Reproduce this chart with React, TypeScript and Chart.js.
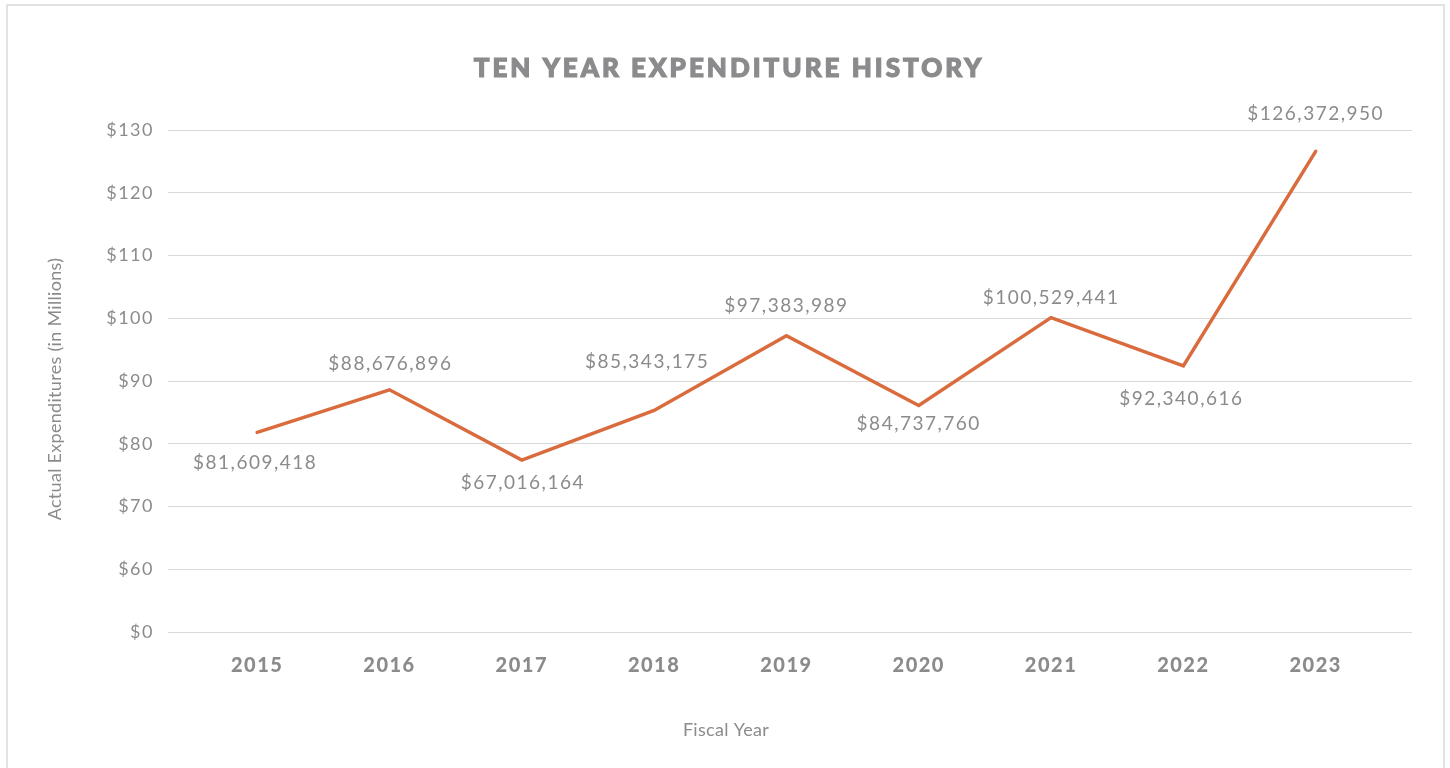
import React, { useEffect, useRef } from 'react';
import { Chart, registerables } from 'chart.js';

Chart.register(...registerables);

const chartTitle = 'TEN YEAR EXPENDITURE HISTORY';
const xAxisTitle = 'Fiscal Year';
const yAxisTitle = 'Actual Expenditures (in Millions)';

const years = ['2015', '2016', '2017', '2018', '2019', '2020', '2021', '2022', '2023'];
// plotted positions (millions) as drawn in the reference
const plotValues = [81.8, 88.6, 77.4, 85.3, 97.2, 86.1, 100.1, 92.4, 126.6];
// label text shown next to each point
const valueLabels = [
  '$81,609,418',
  '$88,676,896',
  '$67,016,164',
  '$85,343,175',
  '$97,383,989',
  '$84,737,760',
  '$100,529,441',
  '$92,340,616',
  '$126,372,950',
];
const yTickValues = [50, 60, 70, 80, 90, 100, 110, 120, 130];
const yTickLabels = ['$0', '$60', '$70', '$80', '$90', '$100', '$110', '$120', '$130'];

// label offsets relative to the point (style only)
const labelOffsets: [number, number][] = [
  [-2, 30], [1, -26], [1, 23], [-7, -49], [0, -30], [0, 18], [0, -20], [-2, 33], [0, -37],
];

const GRAY = '#8B8B8E';
const LINE = '#D96B3D';
const FONT = 'Lato, "Open Sans", sans-serif';

export default function App() {
  const ref = useRef<HTMLCanvasElement | null>(null);

  useEffect(() => {
    document.body.style.margin = '0';
    const canvas = ref.current;
    if (!canvas) return;

    const decor = {
      id: 'decor',
      beforeDraw(chart: any) {
        const ctx = chart.ctx as CanvasRenderingContext2D;
        ctx.save();
        ctx.fillStyle = '#ffffff';
        ctx.fillRect(0, 0, chart.width, chart.height);
        ctx.strokeStyle = '#D9D9D9';
        ctx.lineWidth = 1.5;
        ctx.strokeRect(7, 5, 1437, 800);
        ctx.restore();
        (ctx as any).letterSpacing = '1.5px';
      },
      afterDraw(chart: any) {
        const ctx = chart.ctx as CanvasRenderingContext2D;
        ctx.save();
        ctx.fillStyle = GRAY;
        ctx.strokeStyle = GRAY;
        ctx.textAlign = 'center';
        ctx.textBaseline = 'middle';
        // title
        (ctx as any).letterSpacing = '3px';
        ctx.font = `900 26px ${FONT}`;
        ctx.lineWidth = 1.2;
        ctx.fillText(chartTitle, 729, 69);
        ctx.strokeText(chartTitle, 729, 69);
        // axis titles
        (ctx as any).letterSpacing = '0.3px';
        ctx.font = `18px ${FONT}`;
        ctx.fillText(xAxisTitle, 726, 730);
        ctx.save();
        ctx.translate(55, 389);
        ctx.rotate(-Math.PI / 2);
        ctx.fillText(yAxisTitle, 0, 0);
        ctx.restore();
        // data labels
        (ctx as any).letterSpacing = '1.5px';
        ctx.font = `19px ${FONT}`;
        const meta = chart.getDatasetMeta(0);
        meta.data.forEach((pt: any, i: number) => {
          const [dx, dy] = labelOffsets[i];
          ctx.fillText(valueLabels[i], pt.x + dx, pt.y + dy);
        });
        ctx.restore();
      },
    };

    const chart = new Chart(canvas, {
      type: 'line',
      data: {
        labels: years,
        datasets: [
          {
            data: plotValues.map((v, i) => ({ x: i, y: v })),
            borderColor: LINE,
            borderWidth: 3.5,
            borderCapStyle: 'round',
            borderJoinStyle: 'miter',
            pointRadius: 0,
            tension: 0,
            fill: false,
          },
        ],
      },
      options: {
        animation: false,
        responsive: false,
        layout: { padding: { top: 130, right: 38, left: 0, bottom: 0 } },
        plugins: {
          legend: { display: false },
          tooltip: { enabled: false },
          title: { display: false },
        },
        scales: {
          x: {
            type: 'linear',
            min: -0.674,
            max: 8.728,
            afterBuildTicks: (s: any) => {
              s.ticks = years.map((_, i) => ({ value: i }));
            },
            afterFit: (s: any) => {
              s.height = 136;
            },
            grid: { display: false, drawTicks: false },
            border: { display: false },
            ticks: {
              padding: 22,
              color: GRAY,
              font: { family: FONT, size: 20, weight: '900' },
              callback: (v: any) => years[Math.round(Number(v))] ?? '',
              maxRotation: 0,
              autoSkip: false,
            },
          },
          y: {
            type: 'linear',
            min: 50,
            max: 130,
            afterBuildTicks: (s: any) => {
              s.ticks = yTickValues.map((v) => ({ value: v }));
            },
            afterFit: (s: any) => {
              s.width = 168;
            },
            grid: { color: '#D9D9D9', lineWidth: 1, drawTicks: false },
            border: { display: false },
            ticks: {
              padding: 14,
              color: GRAY,
              font: { family: FONT, size: 18 },
              callback: (v: any) => {
                const idx = yTickValues.indexOf(Number(v));
                return idx >= 0 ? yTickLabels[idx] : '';
              },
            },
          },
        },
      },
      plugins: [decor],
    } as any);

    return () => chart.destroy();
  }, []);

  return <canvas ref={ref} width={1450} height={768} style={{ display: 'block' }} />;
}
